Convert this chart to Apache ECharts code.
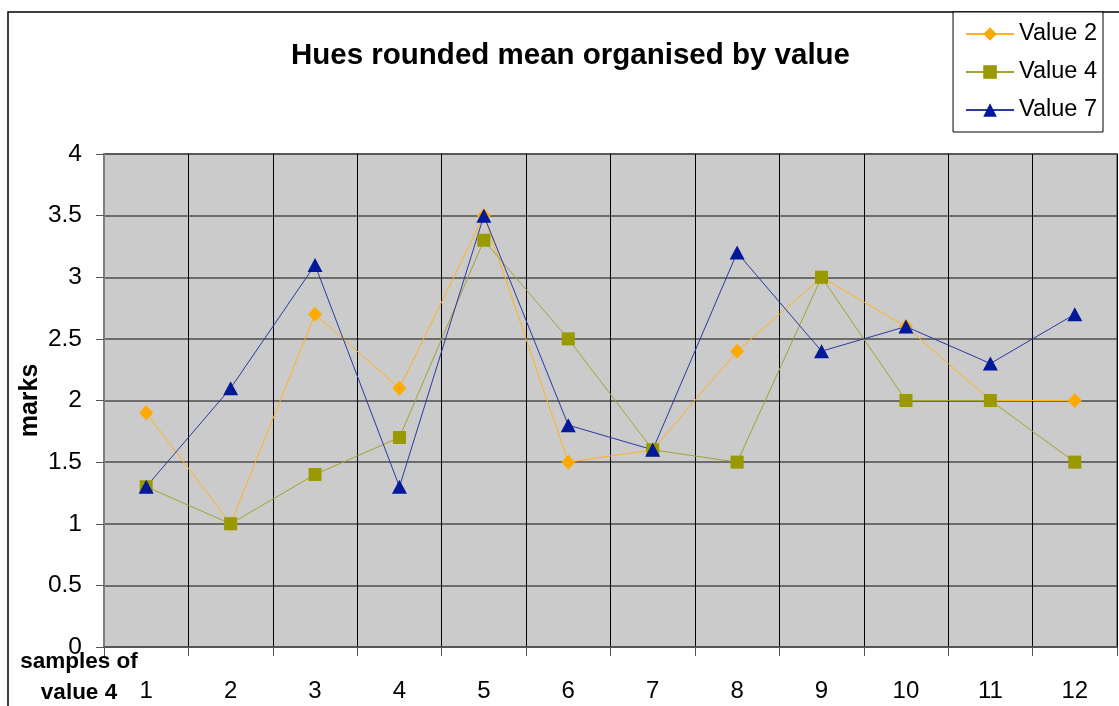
<!DOCTYPE html>
<html>
<head>
<meta charset="utf-8">
<script src="https://cdn.jsdelivr.net/npm/echarts@6/dist/echarts.min.js"></script>
<style>
html, body { margin: 0; padding: 0; background: #fff; }
#chart { width: 1119px; height: 706px; }
</style>
</head>
<body>
<div id="chart"></div>
<script>
var categories = ['1', '2', '3', '4', '5', '6', '7', '8', '9', '10', '11', '12'];
var value2 = [1.9, 1.0, 2.7, 2.1, 3.5, 1.5, 1.6, 2.4, 3.0, 2.6, 2.0, 2.0];
var value4 = [1.3, 1.0, 1.4, 1.7, 3.3, 2.5, 1.6, 1.5, 3.0, 2.0, 2.0, 1.5];
var value7 = [1.3, 2.1, 3.1, 1.3, 3.5, 1.8, 1.6, 3.2, 2.4, 2.6, 2.3, 2.7];

var font = '"Liberation Sans", Arial, sans-serif';
var myChart = echarts.init(document.getElementById('chart'));

function lineSeries(name, data, color, lineColor, symbol, size) {
    return {
        name: name,
        type: 'line',
        data: data,
        symbol: symbol,
        symbolSize: size,
        showAllSymbol: true,
        itemStyle: { color: color },
        lineStyle: { color: lineColor, width: 1 },
        emphasis: { disabled: true }
    };
}

var option = {
    animation: false,
    backgroundColor: '#ffffff',
    textStyle: { fontFamily: font },
    title: {
        text: 'Hues rounded mean organised by value',
        left: 286,
        top: 36,
        textStyle: { fontSize: 29.5, fontWeight: 'bold', color: '#000', fontFamily: font }
    },
    legend: {
        orient: 'vertical',
        right: 16,
        top: 12,
        padding: [10, 6, 10, 12],
        itemGap: 14,
        itemWidth: 48,
        itemHeight: 17,
        itemTextGap: 7,
        backgroundColor: '#fff',
        borderColor: '#000',
        borderWidth: 1,
        textStyle: { fontSize: 23.5, color: '#000', fontFamily: font },
        data: ['Value 2', 'Value 4', 'Value 7'],
        z: 10
    },
    graphic: [{
        type: 'rect',
        z: -1,
        silent: true,
        shape: { x: 8, y: 12, width: 1300, height: 900 },
        style: { fill: 'none', stroke: '#000', lineWidth: 1.5 }
    }, {
        // x axis title, two centred lines under the y axis labels
        type: 'text',
        x: 79,
        y: 646,
        style: {
            text: 'samples of\nvalue 4',
            font: 'bold 22.5px ' + font,
            fill: '#000',
            align: 'center',
            verticalAlign: 'top',
            lineHeight: 31
        }
    }],
    grid: {
        show: true,
        left: 104,
        top: 154,
        width: 1013,
        height: 493,
        containLabel: false,
        outerBoundsMode: 'none',
        backgroundColor: '#cbcbcb',
        borderColor: '#7f7f7f',
        borderWidth: 2
    },
    xAxis: {
        type: 'category',
        data: categories,
        boundaryGap: true,
        axisLine: { lineStyle: { color: '#555', width: 1.5 } },
        axisTick: { show: true, interval: 0, length: 9, lineStyle: { color: '#555' } },
        axisLabel: { fontSize: 24, color: '#000', margin: 32, interval: 0 },
        splitLine: { show: true, interval: 0, lineStyle: { color: '#000', width: 1 } }
    },
    yAxis: {
        type: 'value',
        min: 0,
        max: 4,
        interval: 0.5,
        name: 'marks',
        nameLocation: 'middle',
        nameGap: 61,
        nameMoveOverlap: false,
        nameTextStyle: { fontSize: 25, fontWeight: 'bold', color: '#000' },
        axisLine: { show: true, lineStyle: { color: '#7f7f7f', width: 2 } },
        axisTick: { show: true, length: 8, lineStyle: { color: '#555' } },
        axisLabel: { fontSize: 24.5, color: '#000', margin: 22 },
        splitLine: { show: true, lineStyle: { color: '#4d4d4d', width: 1.5 } }
    },
    series: [
        lineSeries('Value 2', value2, '#ffaa00', '#ffb319', 'diamond', [14, 15]),
        lineSeries('Value 4', value4, '#999900', '#a3a333', 'rect', 13),
        lineSeries('Value 7', value7, '#00189a', '#2a3aa0', 'triangle', [15, 14])
    ]
};
myChart.setOption(option);
</script>
</body>
</html>
